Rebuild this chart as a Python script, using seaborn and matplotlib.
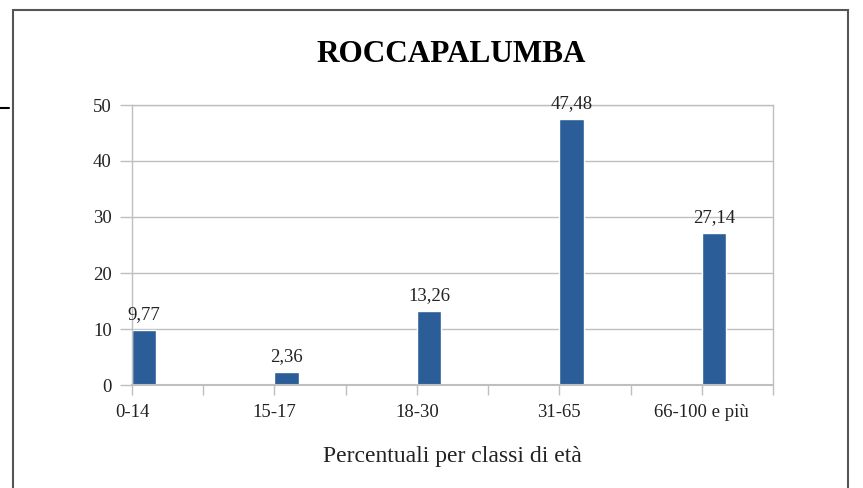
import matplotlib
matplotlib.use("Agg")
import matplotlib.pyplot as plt
import matplotlib.lines as mlines
import matplotlib.patches as mpatches
import numpy as np
import pandas as pd
import seaborn as sns

categorie = ["0-14", "15-17", "18-30", "31-65", "66-100 e più"]
percentuali = [9.77, 2.36, 13.26, 47.48, 27.14]
etichette = ["9,77", "2,36", "13,26", "47,48", "27,14"]

blu = "#2B5E99"
grigio = "#BFBFBF"
testo = "#222222"

sns.set_style("white")
plt.rcParams["font.family"] = ["Liberation Serif", "DejaVu Serif"]

data = pd.DataFrame({"classe": categorie, "valore": percentuali})

fig = plt.figure(figsize=(8.63, 4.88), dpi=100)
ax = fig.add_axes([132 / 863, 1 - 385 / 488, (773 - 132) / 863, (385 - 105) / 488])

sns.barplot(data=data, x="classe", y="valore", color=blu, saturation=1,
            width=0.17, ax=ax)
# bars start at the tick, like the clustered excel layout
for p in ax.patches:
    p.set_x(p.get_x() + p.get_width() / 2)
ax.bar_label(ax.containers[0], labels=etichette, padding=5, fontsize=13.5, color=testo)

ax.set_xlim(0, 4.5)
ax.set_ylim(0, 50)
ax.set_yticks(range(0, 51, 10))
ax.yaxis.grid(True, color=grigio, linewidth=1)
ax.set_axisbelow(True)
ax.set_xticks(np.arange(0, 5), categorie)
ax.set_xticks(np.arange(0.5, 4.6, 1), minor=True)
ax.tick_params(axis="x", which="both", bottom=True, length=7, width=1, color=grigio,
               direction="out", labelsize=13.5, labelcolor=testo, pad=7)
ax.tick_params(axis="y", left=True, length=8.5, width=1, color=grigio, direction="out",
               labelsize=13.5, labelcolor=testo, pad=6)
for s in ax.spines.values():
    s.set_color(grigio)
    s.set_linewidth(1)
ax.spines["bottom"].set_linewidth(1.5)

ax.set_ylabel("")
ax.set_xlabel("Percentuali per classi di età", fontsize=17, color=testo, labelpad=18)
fig.text(451 / 863, 1 - 55 / 488, "ROCCAPALUMBA", ha="center", va="center",
         fontsize=22.5, fontweight="bold", color="black")

# chart frame
fig.patches.append(mpatches.Rectangle((13 / 863, -0.05), (848 - 13) / 863, 1 - 10 / 488 + 0.05,
                                      transform=fig.transFigure, fill=False,
                                      edgecolor="#555555", linewidth=1.5))
fig.lines.append(mlines.Line2D([0, 9 / 863], [1 - 108 / 488, 1 - 108 / 488],
                               transform=fig.transFigure, color="black", linewidth=1.5))

fig.savefig("out.png", dpi=100)
